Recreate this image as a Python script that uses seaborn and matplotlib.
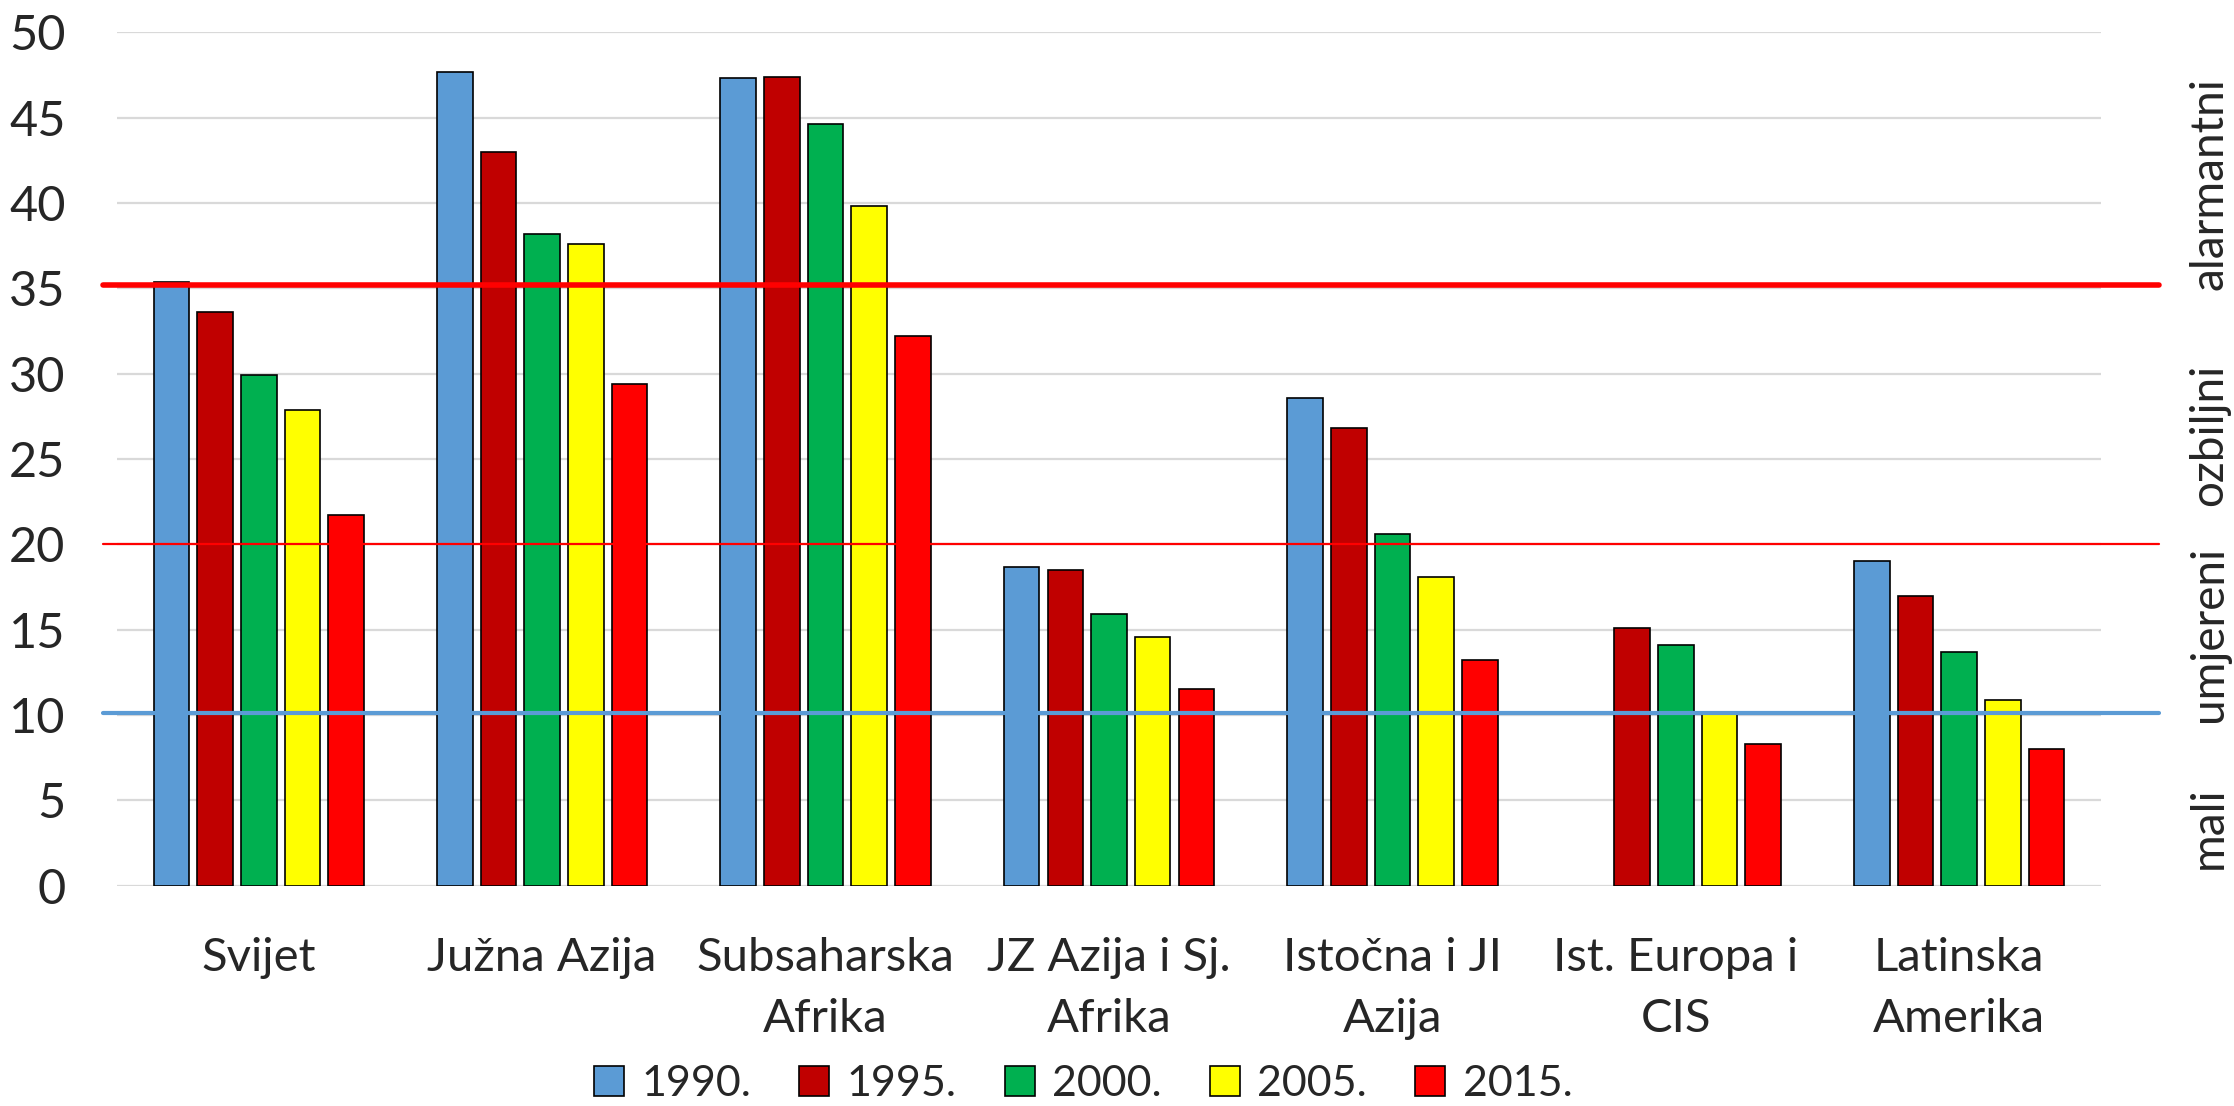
import matplotlib
matplotlib.use("Agg")
import matplotlib.pyplot as plt
import seaborn as sns
import pandas as pd
import numpy as np

# ---- data ----
regions = ["Svijet", "Južna Azija", "Subsaharska\nAfrika", "JZ Azija i Sj.\nAfrika",
           "Istočna i JI\nAzija", "Ist. Europa i\nCIS", "Latinska\nAmerika"]
years = ["1990.", "1995.", "2000.", "2005.", "2015."]
v1990 = [35.4, 47.7, 47.3, 18.7, 28.6, np.nan, 19.0]
v1995 = [33.6, 43.0, 47.4, 18.5, 26.8, 15.1, 17.0]
v2000 = [29.9, 38.2, 44.6, 15.9, 20.6, 14.1, 13.7]
v2005 = [27.9, 37.6, 39.8, 14.6, 18.1, 10.1, 10.9]
v2015 = [21.7, 29.4, 32.2, 11.5, 13.2, 8.3, 8.0]
thresholds = [35.2, 20.0, 10.1]
threshold_colors = ["#FF0000", "#FF0000", "#5B9BD5"]
threshold_widths = [4.0, 1.6, 3.0]
band_labels = ["alarmantni", "ozbiljni", "umjereni", "mali"]
band_label_y = [41.15, 26.4, 14.75, 3.4]
colors = ["#5B9BD5", "#C00000", "#00B050", "#FFFF00", "#FF0000"]

series = [v1990, v1995, v2000, v2005, v2015]
rows = []
for yr, vals in zip(years, series):
    for reg, v in zip(regions, vals):
        rows.append({"regija": reg, "godina": yr, "vrijednost": v})
df = pd.DataFrame(rows)

sns.set_style("white")
plt.rcParams["font.family"] = ["Lato", "DejaVu Sans"]

W, H = 2234, 1106
fig = plt.figure(figsize=(W / 100, H / 100), dpi=100)
ax = fig.add_axes([117 / W, 1 - 885.8 / H, 1984 / W, (885.8 - 32.3) / H])

sns.barplot(data=df, x="regija", y="vrijednost", hue="godina",
            order=regions, hue_order=years,
            palette=dict(zip(years, colors)), saturation=1, errorbar=None,
            width=0.77, gap=0.185, edgecolor="black", linewidth=1.2,
            ax=ax, zorder=2)

ax.set_xlim(-0.5, len(regions) - 0.5)
ax.set_ylim(0, 50)
ax.set_yticks(range(0, 51, 5))
ax.yaxis.grid(True, color="#D9D9D9", linewidth=1.6, zorder=0)
ax.set_axisbelow(True)
for s in ax.spines.values():
    s.set_visible(False)
ax.set_xlabel("")
ax.set_ylabel("")
ax.tick_params(axis="y", length=0, pad=37, labelsize=35)
ax.tick_params(axis="x", length=0, pad=37, labelsize=34)
ax.set_xticks(range(len(regions)))
ax.set_xticklabels(regions, linespacing=1.55, multialignment="center")

# threshold lines
for t, c, lw in zip(thresholds, threshold_colors, threshold_widths):
    ax.axhline(t, xmin=-0.00706, xmax=1.0292, color=c, linewidth=lw,
               clip_on=False, zorder=5)

# band labels on the right
for lab, yv in zip(band_labels, band_label_y):
    ax.text(1.0545, yv, lab, rotation=90, ha="center", va="center",
            fontsize=33, transform=ax.get_yaxis_transform())

# legend
handles, labels = ax.get_legend_handles_labels()
if ax.get_legend() is not None:
    ax.get_legend().remove()
for h in handles:
    h.set_edgecolor("black")
    h.set_linewidth(1.2)
fig.legend(handles, labels, loc="center", bbox_to_anchor=(1083 / W, 1 - 1084 / H),
           ncol=5, frameon=False, fontsize=31, handlelength=0.7, handleheight=0.7,
           handletextpad=0.4, columnspacing=1.12, borderpad=0, borderaxespad=0)

fig.savefig("out.png", dpi=100)
